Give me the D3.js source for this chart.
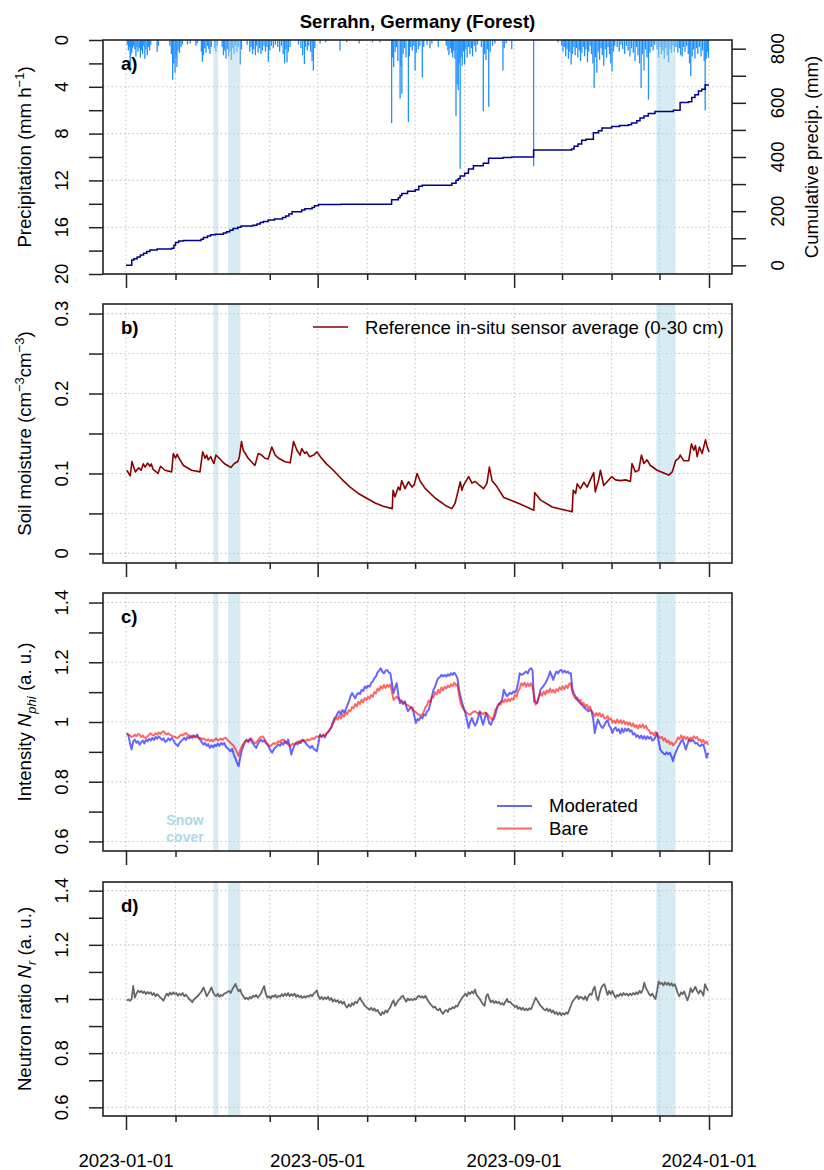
<!DOCTYPE html>
<html>
<head>
<meta charset="utf-8">
<script src="https://cdn.jsdelivr.net/npm/d3@7"></script>
<style>
  body { margin: 0; background: #fff; }
  svg { display: block; }
  text { font-family: "Liberation Sans", Arial, Helvetica, sans-serif; fill: #000; }
</style>
</head>
<body>
<svg id="chart" width="824" height="1170"></svg>
<script>
// ---------------------------------------------------------------------------
// Data (time given as days since 2023-01-01)
// ---------------------------------------------------------------------------
const monthTicks = ["2023-01-01","2023-02-01","2023-04-01","2023-05-01","2023-06-01","2023-07-01",
                    "2023-08-01","2023-09-01","2023-10-01","2023-11-01","2023-12-01","2024-01-01"];
const majorTicks = ["2023-01-01","2023-05-01","2023-09-01","2024-01-01"];

// snow cover periods
const snowStartDay = [54.7, 63.9, 332.1];
const snowEndDay   = [57.8, 71.6, 344.0];

// hourly precipitation intensity events [day, mm/h]
const rain = [
  [0.8,0.4],[1.5,0.9],[2.2,0.6],[2.6,2.7],[3.0,1.3],[3.6,1.1],[4.1,0.7],[4.8,0.5],[5.5,0.8],[6.2,1.4],[6.9,0.6],
  [7.5,1.0],[8.3,0.7],[9.0,1.5],[9.6,0.9],[10.4,1.2],[11.1,0.5],[11.8,1.6],[12.5,0.8],[13.3,1.3],[14.0,0.6],
  [14.8,0.9],[15.5,0.4],[19.5,1.0],[20.3,0.5],
  [27.5,0.5],[28.4,1.2],[29.2,3.4],[29.9,2.0],[30.7,2.8],[31.3,1.5],[31.9,2.3],[32.6,0.9],[33.5,1.1],[34.4,0.6],[35.3,0.4],
  [38.5,0.4],[40.2,0.3],[43.8,0.5],[44.6,0.3],
  [47.2,1.0],[47.8,1.85],[48.5,1.3],[49.3,0.7],[50.1,1.1],[51.0,0.5],[51.8,0.8],[52.6,1.2],[53.4,0.6],
  [55.5,0.7],[56.3,1.0],[57.2,0.5],
  [60.2,0.6],[61.0,1.3],[61.8,0.9],[62.6,1.6],[63.4,0.8],[64.3,1.4],[65.1,1.0],[66.0,1.7],[66.8,0.7],[67.7,1.2],
  [68.6,0.5],[69.5,1.0],[70.4,0.6],[71.5,2.1],[72.3,0.8],
  [75.8,0.4],[77.5,1.0],[78.3,0.6],[79.2,1.2],[80.0,0.8],[81.0,1.3],[81.8,0.5],[82.7,1.1],[83.6,0.7],[84.5,1.2],
  [85.4,0.9],[86.4,0.5],[87.3,1.0],[88.2,0.6],[89.1,1.85],[90.0,0.9],[91.0,0.5],[92.2,0.7],[93.5,0.4],[95.0,0.6],
  [96.2,1.0],[97.3,0.5],[98.4,1.2],[99.3,2.0],[100.1,0.8],[100.8,1.9],[101.6,1.0],[102.7,0.6],
  [108.0,0.4],[109.5,0.7],[110.6,1.3],[111.7,2.05],[112.3,0.6],[113.5,0.9],[114.4,0.5],[115.6,1.0],[116.5,1.8],
  [117.3,2.6],[118.2,0.7],
  [121.5,0.3],[125.0,0.2],[134.0,0.9],[138.2,0.2],[146.0,0.3],[154.3,0.2],[159.0,0.2],
  [166.3,7.1],[166.8,1.5],[167.6,2.3],[168.5,1.0],[169.3,0.6],[170.2,1.8],[171.6,5.0],[172.1,2.2],[172.7,4.6],
  [173.5,1.2],[174.3,0.7],[175.3,1.5],[176.8,7.0],[177.4,1.4],[178.3,0.6],[179.2,0.9],[180.2,0.5],[181.0,2.6],[181.7,1.1],
  [183.0,0.8],[184.0,0.5],[185.5,3.2],[186.4,0.6],[188.5,0.4],[190.3,0.7],[191.5,0.3],[195.5,0.6],
  [200.5,0.5],[201.5,0.9],[202.2,1.3],[203.0,0.7],[203.8,1.1],[204.5,1.5],[205.2,0.9],[206.0,1.6],[206.6,6.5],
  [207.3,3.8],[208.0,4.3],[208.6,2.0],[209.2,11.0],[209.8,1.5],[210.5,2.2],[211.3,1.0],[212.0,2.1],[212.8,0.8],
  [213.6,1.5],[214.5,0.6],[215.3,1.2],[216.2,0.7],[217.0,1.4],[218.0,0.5],[219.0,1.0],[220.0,0.4],
  [222.5,0.6],[223.7,6.1],[224.5,1.2],[225.4,1.7],[226.2,0.8],[227.1,5.7],[228.0,1.0],[229.5,0.5],[231.0,0.3],
  [236.0,2.6],[236.8,0.7],[238.0,0.3],[241.5,0.8],
  [255.2,10.8],
  [270.5,0.2],[272.8,0.5],[273.6,1.0],[274.4,0.6],[275.3,1.4],[276.1,0.8],[277.0,1.6],[277.8,1.0],[278.7,2.1],
  [279.5,1.2],[280.4,0.6],[281.2,1.3],[282.0,0.7],[282.9,1.5],[283.8,0.9],[284.6,1.8],[285.4,1.1],[286.3,0.6],
  [287.1,1.4],[288.0,0.8],[288.9,1.9],[289.7,1.0],[290.6,0.5],[291.4,1.2],[292.3,2.0],[293.1,4.1],[293.9,1.5],
  [294.8,2.8],[295.6,1.0],[296.5,1.7],[297.4,0.7],[298.2,1.3],[299.1,2.2],[300.0,0.8],[300.9,1.5],[301.8,0.6],
  [302.7,1.2],[303.5,2.0],[304.3,2.7],[305.2,1.0],[306.0,0.5],
  [307.5,0.6],[308.8,1.0],[309.9,0.4],[311.0,0.8],[312.2,1.2],[313.3,0.5],[314.4,0.9],[315.5,1.4],[316.5,0.7],
  [317.6,1.1],[318.7,1.8],[319.6,0.6],[320.5,1.3],[321.5,2.0],[322.5,4.1],[323.4,1.2],[324.3,2.6],[325.2,0.8],
  [326.2,1.5],[327.1,5.1],[328.0,1.1],[328.9,0.6],[330.0,0.9],[331.0,0.4],
  [332.5,0.8],[333.4,1.5],[334.3,0.6],[335.2,1.2],[336.1,0.9],[337.0,1.6],[337.9,0.7],[338.8,1.3],[339.7,1.9],
  [340.6,0.8],[341.5,1.1],[342.4,0.5],[343.3,1.0],[344.3,0.6],
  [345.5,1.1],[346.5,0.7],[347.3,1.3],[348.2,1.4],[349.0,0.6],[350.0,1.0],[351.0,0.5],[352.0,1.2],[352.8,2.0],
  [353.6,3.1],[354.5,1.4],[355.3,0.8],[356.2,1.6],[357.1,0.7],[358.0,1.2],[359.0,0.6],[360.0,1.4],[361.0,0.9],
  [362.0,1.8],[362.6,6.0],[363.3,1.6],[364.0,1.0],[364.6,1.5]
];

// cumulative precipitation [day, mm]
const cumPrecip = [
  [0,0],[3.6,20],[5,24],[7,31],[9,38],[11,45],[13,51],[15,57],[19.5,60],[28.6,63],[30,74],[31,84],[33,90],[36,92],
  [47,96],[48.5,103],[51,108],[53,113],[56,115],[61,119],[63,124],[65,130],[67,136],[70,141],[72,145],[79.5,148],
  [82,153],[84,158],[86,162],[89,167],[93,171],[98,177],[100,182],[102,190],[104,198],[110,204],[112,209],
  [116.5,214],[118,220],[120.5,225],[134.5,226],[166.3,242],[170.5,250],[171.6,258],[172.7,265],[176.3,274],
  [181,279],[183.3,292],[185.5,296],[204,303],[206.6,314],[208,320],[209.2,330],[212,340],[214.4,356],[217.5,368],
  [223.7,377],[227,395],[236,398],[241.5,400],[255.2,426],[279,430],[280.5,440],[283,448],[285.3,462],[288,466],
  [292.6,490],[295.8,497],[298,507],[304,513],[309,516],[314.5,519],[316.5,526],[319.8,534],[321.8,544],
  [324.3,551],[327,561],[331.2,568],[342.7,573],[346.9,601],[352.1,604],[354.2,620],[356.2,630],[358.4,644],
  [360.5,650],[362.6,666],[364.6,668]
];

// reference in-situ soil moisture average, 0-30 cm [day, cm3/cm3]
const soilMoisture = [
  [0.5,0.104],[2.7,0.097],[3.7,0.115],[5.8,0.102],[8,0.107],[9.5,0.104],[10.8,0.112],[12,0.108],[13.5,0.113],
  [15,0.109],[15.8,0.112],[17,0.105],[20,0.100],[21.6,0.109],[24.4,0.104],[28.6,0.102],[29.6,0.125],[31,0.119],
  [32,0.124],[33.8,0.117],[36,0.110],[41,0.104],[46.3,0.102],[48,0.127],[49.5,0.119],[50.5,0.123],[51.5,0.117],
  [53,0.121],[55,0.1125],[56.3,0.123],[58.4,0.119],[61.5,0.1125],[65.7,0.1075],[67.8,0.1125],[70,0.115],
  [71,0.121],[72.3,0.140],[73.4,0.129],[76.5,0.119],[80.7,0.110],[82.8,0.125],[84.9,0.123],[87,0.119],[89,0.118],
  [91.3,0.133],[93.4,0.123],[95.5,0.119],[99.6,0.1146],[102.8,0.1133],[104.9,0.140],[107,0.129],[109,0.123],
  [110,0.131],[112,0.125],[113,0.127],[115,0.121],[117.5,0.123],[119.6,0.127],[121.7,0.121],[125.5,0.112],
  [129.8,0.104],[135,0.093],[140.3,0.083],[145.5,0.075],[150.7,0.069],[156,0.063],[161,0.059],[166.7,0.056],
  [167.2,0.079],[168.4,0.071],[170.5,0.083],[171.5,0.079],[172.6,0.091],[174.7,0.081],[176.8,0.0896],[179.1,0.083],
  [180.5,0.086],[182.2,0.100],[184.3,0.090],[187.4,0.081],[193.7,0.069],[200,0.060],[204,0.056],[206,0.0625],
  [209.3,0.0896],[210.3,0.079],[211.3,0.085],[214.5,0.096],[216.6,0.088],[218.7,0.090],[220.8,0.086],
  [223.9,0.081],[226,0.088],[227.5,0.108],[229.2,0.091],[232.3,0.0833],[236.5,0.070],[246,0.0625],[255.3,0.054],
  [255.9,0.076],[259.4,0.067],[266.8,0.058],[279.3,0.052],[280,0.079],[281.5,0.075],[282.5,0.087],[284.5,0.081],
  [286.6,0.089],[288.7,0.083],[292.8,0.101],[293.8,0.077],[295.9,0.092],[297,0.104],[299.1,0.085],[304,0.096],
  [306.5,0.092],[309.7,0.091],[312.7,0.092],[315.8,0.090],[316.8,0.1125],[318.9,0.102],[321,0.104],[322.7,0.123],
  [324.2,0.1125],[326.2,0.117],[328.3,0.110],[332.5,0.104],[339.8,0.098],[342,0.102],[344.1,0.116],[346,0.119],
  [347,0.123],[349.1,0.116],[352.3,0.116],[354,0.137],[355.5,0.129],[356.5,0.135],[357.6,0.121],[359,0.133],
  [360.7,0.125],[362.8,0.142],[363.9,0.133],[365,0.127]
];

// daily neutron intensity N_phi, moderated detector (day 0 .. 364)
const moderated = [
  0.962,0.955,0.930,0.908,0.935,0.941,0.930,0.936,0.924,0.932,
  0.938,0.928,0.941,0.935,0.944,0.938,0.947,0.940,0.950,0.944,
  0.952,0.946,0.940,0.945,0.934,0.936,0.945,0.938,0.946,0.941,
  0.930,0.925,0.919,0.930,0.936,0.941,0.947,0.940,0.950,0.945,
  0.952,0.946,0.955,0.950,0.958,0.948,0.940,0.932,0.924,0.930,
  0.920,0.926,0.913,0.922,0.915,0.924,0.919,0.928,0.920,0.930,
  0.924,0.930,0.918,0.912,0.908,0.902,0.910,0.891,0.878,0.863,
  0.852,0.880,0.905,0.920,0.932,0.941,0.935,0.944,0.936,0.928,
  0.920,0.913,0.925,0.935,0.941,0.934,0.938,0.930,0.925,0.915,
  0.905,0.897,0.908,0.915,0.919,0.925,0.920,0.930,0.924,0.936,
  0.928,0.941,0.920,0.891,0.910,0.922,0.930,0.925,0.935,0.930,
  0.941,0.935,0.930,0.922,0.918,0.913,0.920,0.910,0.906,0.902,
  0.930,0.958,0.950,0.956,0.948,0.960,0.966,0.974,0.982,0.998,
  1.013,1.018,1.030,1.036,1.026,1.040,1.032,1.041,1.055,1.068,
  1.085,1.097,1.088,1.080,1.092,1.097,1.094,1.108,1.104,1.119,
  1.113,1.122,1.118,1.130,1.136,1.147,1.152,1.166,1.172,1.180,
  1.168,1.163,1.172,1.174,1.166,1.163,1.130,1.097,1.115,1.130,
  1.090,1.063,1.072,1.060,1.069,1.052,1.036,1.044,1.050,1.047,
  1.020,0.997,1.010,1.006,1.018,1.012,1.025,1.022,1.036,1.041,
  1.060,1.085,1.108,1.118,1.135,1.147,1.150,1.158,1.152,1.158,
  1.152,1.160,1.155,1.163,1.158,1.165,1.158,1.147,1.108,1.085,
  1.063,1.045,1.030,1.005,0.980,1.000,1.013,1.000,0.988,0.997,
  1.015,1.036,1.010,0.991,1.010,1.030,1.015,0.995,0.991,1.005,
  1.013,1.030,1.052,1.060,1.066,1.074,1.108,1.095,1.086,1.092,
  1.098,1.094,1.102,1.098,1.108,1.130,1.163,1.158,1.160,1.165,
  1.169,1.163,1.175,1.180,1.174,1.069,1.065,1.063,1.085,1.108,
  1.115,1.122,1.130,1.140,1.152,1.169,1.155,1.141,1.158,1.169,
  1.163,1.172,1.174,1.166,1.172,1.165,1.169,1.163,1.163,1.108,
  1.095,1.085,1.074,1.068,1.062,1.058,1.050,1.045,1.041,1.036,
  1.040,1.036,1.010,0.963,0.990,1.008,0.995,0.985,0.980,0.990,
  1.000,1.006,0.988,0.980,0.963,0.976,0.982,0.970,0.976,0.962,
  0.978,0.966,0.978,0.970,0.978,0.968,0.972,0.958,0.962,0.950,
  0.956,0.946,0.955,0.944,0.953,0.942,0.952,0.944,0.950,0.938,
  0.941,0.950,0.963,0.935,0.908,0.900,0.895,0.891,0.898,0.892,
  0.897,0.885,0.869,0.890,0.902,0.915,0.924,0.935,0.941,0.925,
  0.908,0.925,0.941,0.935,0.940,0.936,0.928,0.930,0.922,0.919,
  0.925,0.924,0.905,0.880,0.897
];

// daily neutron intensity N_phi, bare detector (day 0 .. 364)
const bare = [
  0.962,0.958,0.955,0.950,0.952,0.958,0.952,0.960,0.958,0.950,
  0.955,0.948,0.947,0.952,0.958,0.962,0.956,0.955,0.962,0.958,
  0.965,0.960,0.966,0.969,0.962,0.958,0.962,0.957,0.955,0.950,
  0.952,0.946,0.947,0.952,0.958,0.955,0.960,0.963,0.958,0.955,
  0.950,0.955,0.952,0.948,0.952,0.945,0.947,0.942,0.945,0.941,
  0.938,0.942,0.936,0.940,0.936,0.940,0.945,0.938,0.941,0.945,
  0.940,0.946,0.947,0.940,0.935,0.930,0.925,0.919,0.910,0.898,
  0.886,0.905,0.919,0.928,0.935,0.938,0.932,0.941,0.945,0.935,
  0.930,0.930,0.938,0.945,0.950,0.952,0.945,0.935,0.928,0.920,
  0.919,0.925,0.930,0.926,0.930,0.936,0.932,0.940,0.941,0.935,
  0.930,0.925,0.919,0.922,0.928,0.925,0.930,0.935,0.930,0.938,
  0.936,0.940,0.935,0.942,0.938,0.941,0.946,0.942,0.948,0.952,
  0.950,0.955,0.952,0.958,0.954,0.962,0.966,0.974,0.982,0.995,
  1.005,1.016,1.008,1.022,1.012,1.026,1.018,1.034,1.026,1.040,
  1.036,1.050,1.046,1.060,1.052,1.068,1.060,1.075,1.066,1.080,
  1.074,1.084,1.078,1.090,1.084,1.100,1.096,1.112,1.105,1.120,
  1.112,1.124,1.114,1.124,1.118,1.126,1.100,1.074,1.080,1.084,
  1.078,1.075,1.068,1.063,1.066,1.058,1.056,1.052,1.046,1.040,
  1.036,1.032,1.028,1.025,1.022,1.024,1.035,1.050,1.056,1.072,
  1.066,1.085,1.082,1.100,1.092,1.108,1.098,1.116,1.106,1.118,
  1.112,1.122,1.116,1.126,1.120,1.132,1.122,1.126,1.090,1.063,
  1.050,1.042,1.036,1.030,1.026,1.024,1.030,1.034,1.036,1.032,
  1.028,1.032,1.030,1.026,1.032,1.030,1.025,1.018,1.012,1.008,
  1.025,1.044,1.050,1.062,1.058,1.072,1.066,1.076,1.068,1.078,
  1.070,1.080,1.074,1.090,1.085,1.104,1.112,1.130,1.122,1.132,
  1.118,1.130,1.120,1.130,1.118,1.090,1.058,1.070,1.085,1.097,
  1.088,1.102,1.092,1.106,1.098,1.112,1.100,1.108,1.098,1.110,
  1.104,1.116,1.108,1.120,1.110,1.122,1.114,1.128,1.130,1.100,
  1.086,1.078,1.082,1.070,1.074,1.058,1.064,1.050,1.058,1.044,
  1.052,1.036,1.030,1.019,1.030,1.022,1.030,1.018,1.026,1.012,
  1.013,1.020,1.008,1.012,0.998,1.005,0.996,1.008,0.997,1.006,
  0.995,1.004,0.993,1.000,0.990,0.998,0.986,0.995,0.983,0.990,
  0.978,0.990,0.982,0.992,0.980,0.988,0.975,0.972,0.960,0.965,
  0.955,0.966,0.958,0.952,0.946,0.950,0.938,0.945,0.932,0.938,
  0.926,0.932,0.922,0.928,0.935,0.948,0.942,0.955,0.945,0.952,
  0.942,0.950,0.938,0.948,0.942,0.952,0.946,0.950,0.938,0.942,
  0.932,0.940,0.928,0.934,0.924
];

// daily neutron ratio N_r (day 0 .. 364)
const neutronRatio = [
  0.995,0.998,0.993,1.000,1.048,1.005,1.020,1.031,1.025,1.030,
  1.022,1.028,1.018,1.026,1.020,1.025,1.015,1.022,1.010,1.018,
  1.012,1.005,1.000,0.994,1.008,1.020,1.012,1.024,1.016,1.025,
  1.018,1.022,1.012,1.020,1.014,1.022,1.010,1.016,1.008,1.000,
  0.995,0.988,0.998,1.004,1.008,1.015,1.022,1.030,1.043,1.028,
  1.010,1.020,1.030,1.043,1.025,1.015,1.010,1.020,1.008,1.015,
  1.012,1.020,1.022,1.026,1.030,1.022,1.035,1.045,1.056,1.040,
  1.028,1.035,1.018,1.010,1.000,1.005,0.998,1.008,1.002,1.012,
  1.008,1.015,1.005,1.012,1.020,1.035,1.048,1.020,1.005,1.010,
  1.002,1.012,1.008,1.015,1.005,1.012,1.008,1.018,1.010,1.020,
  1.012,1.022,1.010,1.018,1.012,1.020,1.008,1.015,1.006,1.012,
  1.004,1.010,1.005,1.012,1.008,1.016,1.010,1.020,1.025,1.032,
  1.010,1.000,1.008,0.998,1.006,1.000,1.008,0.996,1.004,0.990,
  0.998,0.990,0.996,0.985,0.992,0.982,0.990,0.975,0.968,0.980,
  0.972,0.985,0.978,0.990,0.985,0.995,1.005,0.992,0.985,0.975,
  0.970,0.965,0.960,0.968,0.958,0.965,0.955,0.960,0.948,0.940,
  0.952,0.945,0.958,0.950,0.962,0.970,0.985,0.995,0.975,0.985,
  0.995,1.000,1.008,1.012,0.998,0.990,1.002,0.995,1.000,0.995,
  1.002,0.998,1.008,1.012,1.005,1.010,1.004,1.012,1.000,0.990,
  0.982,0.975,0.968,0.972,0.962,0.958,0.965,0.952,0.945,0.955,
  0.960,0.952,0.965,0.962,0.970,0.966,0.975,0.972,0.985,0.995,
  1.005,1.012,1.020,1.010,1.025,1.018,1.028,1.020,1.035,1.015,
  1.008,1.000,0.990,0.980,0.975,1.010,1.018,1.000,0.988,0.995,
  0.985,0.992,0.985,0.990,0.980,0.985,0.978,0.990,1.000,0.988,
  0.990,0.982,0.978,0.970,0.975,0.963,0.970,0.960,0.968,0.958,
  0.965,0.958,0.966,0.962,0.975,0.990,1.005,0.995,0.985,0.975,
  0.970,0.962,0.958,0.965,0.955,0.962,0.950,0.958,0.945,0.952,
  0.942,0.950,0.940,0.948,0.942,0.950,0.945,0.960,0.975,0.990,
  0.998,1.005,1.012,1.000,1.008,1.005,0.998,1.010,0.995,1.010,
  1.020,1.015,1.035,1.045,1.010,0.995,1.020,1.040,1.050,1.055,
  1.035,1.015,1.030,1.018,1.030,1.015,1.005,1.015,1.010,1.020,
  1.012,1.022,1.015,1.020,1.012,1.020,1.014,1.022,1.016,1.025,
  1.018,1.030,1.022,1.035,1.060,1.040,1.030,1.018,1.012,1.020,
  1.008,1.000,1.030,1.065,1.055,1.060,1.050,1.062,1.052,1.060,
  1.050,1.058,1.048,1.055,1.040,1.020,1.010,1.025,1.018,1.028,
  1.010,0.995,1.012,1.040,1.025,1.035,1.045,1.030,1.020,1.032,
  1.025,1.012,1.055,1.040,1.030
];

// axis ticks
const precipTicks = [0,2,4,6,8,10,12,14,16,18,20];
const precipLabels = [0,4,8,12,16,20];
const cumTicks = [0,100,200,300,400,500,600,700,800];
const cumLabels = [0,200,400,600,800];
const smTicks = [0,0.05,0.1,0.15,0.2,0.25,0.3];
const smLabels = [0,0.1,0.2,0.3];
const nTicks = [0.6,0.7,0.8,0.9,1.0,1.1,1.2,1.3,1.4];
const nLabels = [0.6,0.8,1.0,1.2,1.4];

// ---------------------------------------------------------------------------
// Layout
// ---------------------------------------------------------------------------
const FS = 18.6;
const boxL = 103, boxR = 732;
const panels = {
  a: { top: 40,  bottom: 274 },
  b: { top: 304, bottom: 563 },
  c: { top: 593, bottom: 851 },
  d: { top: 882, bottom: 1116 }
};
const parseDay = d3.timeParse("%Y-%m-%d");
const t0 = parseDay("2023-01-01");
const dayToDate = d => new Date(t0.getTime() + d * 864e5);

const x = d3.scaleTime()
  .domain([parseDay("2023-01-01"), parseDay("2024-01-01")])
  .range([126, 709]);

const yPrecip = d3.scaleLinear().domain([0, 20]).range([panels.a.top, panels.a.bottom]);
const yCum    = d3.scaleLinear().domain([-32, 832]).range([panels.a.bottom, panels.a.top]);
const ySM     = d3.scaleLinear().domain([-0.012, 0.312]).range([panels.b.bottom, panels.b.top]);
const yNphi   = d3.scaleLinear().domain([0.568, 1.432]).range([panels.c.bottom, panels.c.top]);
const yNr     = d3.scaleLinear().domain([0.568, 1.432]).range([panels.d.bottom, panels.d.top]);

const svg = d3.select("#chart");
svg.append("rect").attr("width", 824).attr("height", 1170).attr("fill", "#fff");

const monthDates = monthTicks.map(parseDay);
const majorDates = majorTicks.map(parseDay);
const minorDates = monthDates.filter(d => !majorTicks.includes(d3.timeFormat("%Y-%m-%d")(d)));

function grid(p, yScale, values) {
  const g = svg.append("g")
    .attr("stroke", "#c8c8c8").attr("stroke-width", 1.1).attr("stroke-dasharray", "1.6,2.6");
  g.selectAll("line.v").data(monthDates).join("line")
    .attr("x1", d => x(d)).attr("x2", d => x(d))
    .attr("y1", p.top).attr("y2", p.bottom);
  g.selectAll("line.h").data(values).join("line")
    .attr("x1", boxL).attr("x2", boxR)
    .attr("y1", d => yScale(d)).attr("y2", d => yScale(d));
}

function snowBands(p) {
  svg.append("g").selectAll("rect").data(snowStartDay).join("rect")
    .attr("x", d => x(dayToDate(d)))
    .attr("width", (d, i) => x(dayToDate(snowEndDay[i])) - x(dayToDate(d)))
    .attr("y", p.top).attr("height", p.bottom - p.top)
    .attr("fill", "#add8e6").attr("fill-opacity", 0.5);
}

function frame(p) {
  svg.append("rect")
    .attr("x", boxL).attr("y", p.top)
    .attr("width", boxR - boxL).attr("height", p.bottom - p.top)
    .attr("fill", "none").attr("stroke", "#222").attr("stroke-width", 1.6);
}

function styleAxis(g) {
  g.select(".domain").remove();
  g.selectAll(".tick line").attr("stroke", "#222").attr("stroke-width", 1.5);
}

function xAxis(p, withLabels) {
  svg.append("g").attr("transform", `translate(0,${p.bottom})`)
    .call(d3.axisBottom(x).tickValues(minorDates).tickSize(6).tickFormat(""))
    .call(styleAxis);
  svg.append("g").attr("transform", `translate(0,${p.bottom})`)
    .call(d3.axisBottom(x).tickValues(majorDates).tickSize(14).tickFormat(""))
    .call(styleAxis);
  if (withLabels) {
    svg.append("g").selectAll("text").data(majorDates).join("text")
      .attr("x", d => x(d)).attr("y", 1167)
      .attr("text-anchor", "middle").attr("font-size", FS)
      .text(d3.timeFormat("%Y-%m-%d"));
  }
}

function yAxisLeft(yScale, ticks, labels) {
  svg.append("g").attr("transform", `translate(${boxL},0)`)
    .call(d3.axisLeft(yScale).tickValues(ticks).tickSize(14).tickFormat(""))
    .call(styleAxis);
  svg.append("g").selectAll("text").data(labels).join("text")
    .attr("transform", d => `translate(67.5,${yScale(d)}) rotate(-90)`)
    .attr("text-anchor", "middle").attr("font-size", FS)
    .text(d => String(d));
}

function yTitle(xPos, yCenter, parts) {
  const t = svg.append("text")
    .attr("transform", `translate(${xPos},${yCenter}) rotate(-90)`)
    .attr("text-anchor", "middle").attr("font-size", FS);
  parts.forEach(pt => {
    const s = t.append("tspan").text(pt.t);
    if (pt.dy) s.attr("dy", pt.dy);
    if (pt.small) s.attr("font-size", 13);
    if (pt.italic) s.attr("font-style", "italic");
  });
}

function panelLabel(p, txt) {
  svg.append("text").attr("x", 121).attr("y", p.top + 30)
    .attr("font-size", FS).attr("font-weight", "bold").text(txt);
}

// ---------------------------------------------------------------------------
// Title
// ---------------------------------------------------------------------------
svg.append("text").attr("x", (boxL + boxR) / 2).attr("y", 28)
  .attr("text-anchor", "middle").attr("font-size", FS).attr("font-weight", "bold")
  .text("Serrahn, Germany (Forest)");

// ---------------------------------------------------------------------------
// a) precipitation
// ---------------------------------------------------------------------------
{
  const p = panels.a;
  grid(p, yPrecip, [4, 8, 12, 16]);
  svg.append("g").attr("stroke", "#1e90ff").attr("stroke-width", 1.3)
    .selectAll("line").data(rain).join("line")
    .attr("x1", d => x(dayToDate(d[0]))).attr("x2", d => x(dayToDate(d[0])))
    .attr("y1", yPrecip(0)).attr("y2", d => yPrecip(d[1]));
  snowBands(p);
  svg.append("path").datum(cumPrecip)
    .attr("fill", "none").attr("stroke", "#00008b").attr("stroke-width", 1.5)
    .attr("d", d3.line().curve(d3.curveStepAfter)
      .x(d => x(dayToDate(d[0]))).y(d => yCum(d[1])));
  frame(p);
  xAxis(p, false);
  yAxisLeft(yPrecip, precipTicks, precipLabels);
  svg.append("g").attr("transform", `translate(${boxR},0)`)
    .call(d3.axisRight(yCum).tickValues(cumTicks).tickSize(14).tickFormat(""))
    .call(styleAxis);
  svg.append("g").selectAll("text").data(cumLabels).join("text")
    .attr("transform", d => `translate(783.5,${yCum(d)}) rotate(-90)`)
    .attr("text-anchor", "middle").attr("font-size", FS).text(d => String(d));
  panelLabel(p, "a)");
  yTitle(31, (p.top + p.bottom) / 2, [
    { t: "Precipitation (mm h" }, { t: "\u22121", dy: -7, small: true }, { t: ")", dy: 7 }
  ]);
  yTitle(817.5, (p.top + p.bottom) / 2, [{ t: "Cumulative precip. (mm)" }]);
}

// ---------------------------------------------------------------------------
// b) soil moisture
// ---------------------------------------------------------------------------
{
  const p = panels.b;
  grid(p, ySM, smTicks);
  snowBands(p);
  svg.append("path").datum(soilMoisture)
    .attr("fill", "none").attr("stroke", "#8b0000").attr("stroke-width", 1.6)
    .attr("stroke-linejoin", "round")
    .attr("d", d3.line().x(d => x(dayToDate(d[0]))).y(d => ySM(d[1])));
  frame(p);
  xAxis(p, false);
  yAxisLeft(ySM, smTicks, smLabels);
  panelLabel(p, "b)");
  svg.append("line").attr("x1", 313).attr("x2", 348).attr("y1", 327).attr("y2", 327)
    .attr("stroke", "#8b0000").attr("stroke-width", 1.6);
  svg.append("text").attr("x", 365).attr("y", 334).attr("font-size", FS)
    .text("Reference in-situ sensor average (0-30 cm)");
  yTitle(31, (p.top + p.bottom) / 2, [
    { t: "Soil moisture (cm" }, { t: "\u22123", dy: -7, small: true },
    { t: "cm", dy: 7 }, { t: "\u22123", dy: -7, small: true }, { t: ")", dy: 7 }
  ]);
}

// ---------------------------------------------------------------------------
// c) neutron intensities
// ---------------------------------------------------------------------------
{
  const p = panels.c;
  grid(p, yNphi, nLabels);
  snowBands(p);
  const line = d3.line().x((d, i) => x(dayToDate(i + 0.5))).y(d => yNphi(d));
  svg.append("path").datum(moderated)
    .attr("fill", "none").attr("stroke", "blue").attr("stroke-opacity", 0.6)
    .attr("stroke-width", 2).attr("stroke-linejoin", "round").attr("d", line);
  svg.append("path").datum(bare)
    .attr("fill", "none").attr("stroke", "red").attr("stroke-opacity", 0.6)
    .attr("stroke-width", 2).attr("stroke-linejoin", "round").attr("d", line);
  frame(p);
  xAxis(p, false);
  yAxisLeft(yNphi, nTicks, nLabels);
  panelLabel(p, "c)");
  const leg = [{ name: "Moderated", color: "blue", y: 806 }, { name: "Bare", color: "red", y: 828.5 }];
  leg.forEach(l => {
    svg.append("line").attr("x1", 497).attr("x2", 532).attr("y1", l.y).attr("y2", l.y)
      .attr("stroke", l.color).attr("stroke-opacity", 0.6).attr("stroke-width", 1.8);
    svg.append("text").attr("x", 549).attr("y", l.y + 6.2).attr("font-size", FS).text(l.name);
  });
  svg.append("g").attr("font-size", 14).attr("font-weight", "bold")
    .selectAll("text").data(["Snow", "cover"]).join("text")
    .attr("x", 185).attr("y", (d, i) => 825 + i * 17)
    .attr("text-anchor", "middle").style("fill", "#add8e6").text(d => d);
  yTitle(31, (p.top + p.bottom) / 2, [
    { t: "Intensity " }, { t: "N", italic: true }, { t: "phi", italic: true, small: true, dy: 5 },
    { t: " (a. u.)", dy: -5 }
  ]);
}

// ---------------------------------------------------------------------------
// d) neutron ratio
// ---------------------------------------------------------------------------
{
  const p = panels.d;
  grid(p, yNr, nLabels);
  snowBands(p);
  svg.append("path").datum(neutronRatio)
    .attr("fill", "none").attr("stroke", "#666").attr("stroke-width", 1.8)
    .attr("stroke-linejoin", "round")
    .attr("d", d3.line().x((d, i) => x(dayToDate(i + 0.5))).y(d => yNr(d)));
  frame(p);
  xAxis(p, true);
  yAxisLeft(yNr, nTicks, nLabels);
  panelLabel(p, "d)");
  yTitle(31, (p.top + p.bottom) / 2, [
    { t: "Neutron ratio " }, { t: "N", italic: true }, { t: "r", italic: true, small: true, dy: 5 },
    { t: " (a. u.)", dy: -5 }
  ]);
}
</script>
</body>
</html>
